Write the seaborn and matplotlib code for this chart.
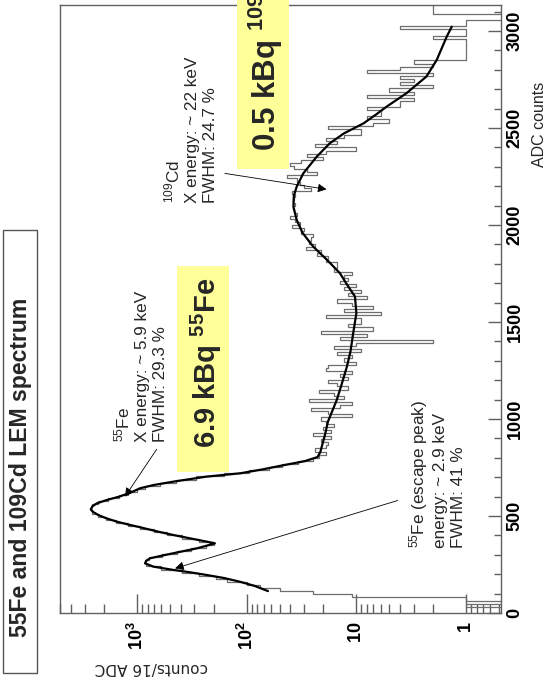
import numpy as np
import pandas as pd
import seaborn as sns
import matplotlib.pyplot as plt
from matplotlib.patches import Rectangle
from matplotlib.ticker import FixedLocator, LogLocator, MultipleLocator, NullFormatter

sns.set_style("white")
plt.rcParams['font.family'] = ['Liberation Sans', 'DejaVu Sans']
plt.rcParams['mathtext.fontset'] = 'custom'
plt.rcParams['mathtext.rm'] = 'Liberation Sans'
plt.rcParams['mathtext.it'] = 'Liberation Sans:italic'
plt.rcParams['mathtext.bf'] = 'Liberation Sans:bold'

# histogram: counts per 16 ADC bin, from 0 to 3136 ADC
bin_width = 16
hist_counts = [
    0, 0, 1, 0, 1, 11, 25, 50, 75, 100,
    150, 190, 270, 390, 600, 820, 850, 780, 590, 430,
    320, 235, 200, 270, 390, 530, 700, 930, 1200, 1550,
    1900, 2250, 2550, 2650, 2550, 2250, 1850, 1450, 1200, 1000,
    850, 620, 440, 290, 160, 95, 62, 48, 34, 25,
    22, 19, 24, 19, 18, 21, 17, 25, 17, 20,
    16, 19, 21, 11, 18, 26, 14, 11, 27, 13,
    16, 22, 12, 15, 18, 12, 14, 11, 19, 18,
    10, 13, 11, 15, 9, 16, 10, 2, 14, 8,
    21, 7, 12, 9, 9, 19, 6, 13, 7, 11,
    15, 8, 12, 9, 13, 10, 14, 12, 13, 11,
    16, 15, 15, 19, 18, 23, 21, 29, 24, 27,
    26, 25, 32, 30, 39, 33, 36, 40, 35, 37,
    38, 36, 38, 37, 36, 39, 26, 30, 33, 35,
    43, 23, 28, 37, 40, 32, 20, 28, 19, 10,
    24, 15, 19, 13, 9, 9, 18, 7, 5, 8,
    6, 6, 8, 4, 4, 3, 8, 3, 5, 2,
    4, 3, 4, 2, 8, 4, 2, 3, 1, 1,
    1, 1, 1, 1, 1, 2, 1, 1, 4, 1,
    1, 0, 0, 2, 2, 2,
]
bin_edges = [i * bin_width for i in range(len(hist_counts) + 1)]
hist_df = pd.DataFrame({
    'adc': [e + bin_width / 2 for e in bin_edges[:-1]],
    'counts': hist_counts,
})

# fit curve
fit_adc = [113, 140, 161, 180, 196, 210, 222, 239, 256, 270, 282, 295, 308, 320,
           333, 346, 359, 368, 385, 402, 420, 442, 456, 471, 488, 505, 520, 534,
           550, 565, 582, 600, 620, 643, 660, 677, 690, 703, 720, 740, 759, 783,
           804, 830, 857, 920, 985, 1098, 1180, 1270, 1350, 1441, 1545, 1631,
           1700, 1751, 1820, 1888, 1960, 2026, 2094, 2150, 2198, 2266, 2352,
           2421, 2472, 2524, 2570, 2610, 2679, 2765, 2851, 2971, 3022]
fit_counts = [64, 85, 115, 160, 232, 330, 467, 710, 846, 820, 761, 600, 467, 370,
              286, 235, 195, 232, 330, 467, 650, 939, 1200, 1531, 1900, 2253, 2500,
              2640, 2550, 2330, 1900, 1450, 1150, 939, 700, 467, 330, 232, 115, 72,
              49, 29.4, 22.6, 21.3, 20.7, 19.3, 18.2, 15.1, 13.6, 12.2, 11.3, 10.7,
              10.0, 10.3, 12.4, 14.1, 18.5, 24.7, 31, 35, 37.5, 37.2, 35, 30.5, 23,
              17.5, 13, 8.6, 6.6, 5.3, 3.5, 2.3, 1.85, 1.5, 1.35]

W, H = 547, 690


def fx(px):
    return px / W


def fy(py):
    return 1 - py / H


fig = plt.figure(figsize=(5.47, 6.90), dpi=100)
ax = fig.add_axes([fx(60), fy(613), fx(501) - fx(60), fy(5) - fy(613)])

sns.histplot(data=hist_df, y='adc', weights='counts', bins=bin_edges, element='step',
             fill=False, color='#6e6e6e', linewidth=0.9, ax=ax)
sns.lineplot(x=fit_counts, y=fit_adc, sort=False, estimator=None, color='black',
             linewidth=1.6, legend=False, ax=ax)

ax.set_xscale('log')
ax.set_xlim(5040, 0.48)
ax.set_ylim(0, 3134)
ax.set_xlabel('')
ax.set_ylabel('')

for s in ax.spines.values():
    s.set_color('#606060')
    s.set_linewidth(1.0)

ax.xaxis.set_major_locator(FixedLocator([1, 10, 100, 1000]))
ax.set_xticklabels([r'$\mathbf{1}$', r'$\mathbf{10}$', r'$\mathbf{10^{2}}$', r'$\mathbf{10^{3}}$'])
ax.xaxis.set_minor_locator(LogLocator(base=10, subs=np.arange(2, 10), numticks=20))
ax.xaxis.set_minor_formatter(NullFormatter())
ax.tick_params(axis='x', which='both', direction='in', bottom=True, top=False,
               colors='#606060', labelcolor='black', labelrotation=90, labelsize=13, pad=6)
ax.tick_params(axis='x', which='major', length=13.5, width=1)
ax.tick_params(axis='x', which='minor', length=6.5, width=1)

ax.yaxis.tick_right()
ax.yaxis.set_major_locator(MultipleLocator(500))
ax.yaxis.set_minor_locator(MultipleLocator(100))
ax.tick_params(axis='y', which='both', direction='in', left=False, right=True,
               labelleft=False, labelright=True, colors='#606060', labelcolor='black',
               labelrotation=90, labelsize=13, pad=4)
ax.tick_params(axis='y', which='major', length=9.5, width=1)
ax.tick_params(axis='y', which='minor', length=5, width=1)
for lab in ax.get_yticklabels():
    lab.set_fontweight('bold')
    lab.set_verticalalignment('center')

# arrows
arrow = dict(arrowstyle='-|>', color='black', lw=0.6, mutation_scale=13, shrinkA=0, shrinkB=0)
ax.annotate('', xy=(1287, 600), xytext=(662, 844), arrowprops=arrow)
ax.annotate('', xy=(450, 230), xytext=(4.2, 580), arrowprops=arrow)
ax.annotate('', xy=(18.7, 2184), xytext=(158, 2266), arrowprops=arrow)

# annotation texts
fig.text(fx(112), fy(441.5), '$^{55}$Fe\nX energy: ~ 5.9 keV\nFWHM: 29.3 %',
         rotation=90, ha='left', va='bottom', fontsize=12.3, linespacing=1.25)
fig.text(fx(162), fy(203), '$^{109}$Cd\nX energy: ~ 22 keV\nFWHM: 24.7 %',
         rotation=90, ha='left', va='bottom', fontsize=12.3, linespacing=1.25)
fig.text(fx(407), fy(548), '$^{55}$Fe (escape peak)\nenergy: ~ 2.9 keV\nFWHM: 41 %',
         rotation=90, ha='left', va='bottom', fontsize=12.3, linespacing=1.25)

# yellow activity boxes
fig.patches.append(Rectangle((fx(177), fy(472)), fx(229) - fx(177), fy(266) - fy(472),
                             transform=fig.transFigure, facecolor='#ffff99',
                             edgecolor='none', zorder=3))
fig.text(fx(206), fy(363), r'6.9 kBq $^{\mathbf{55}}$Fe', rotation=90, ha='center',
         va='center', fontsize=21, fontweight='bold', zorder=4)
fig.patches.append(Rectangle((fx(237), fy(169)), fx(289) - fx(237), fy(-10) - fy(169),
                             transform=fig.transFigure, facecolor='#ffff99',
                             edgecolor='none', zorder=3))
fig.text(fx(266), fy(151), r'0.5 kBq $^{\mathbf{109}}$Cd', rotation=90, ha='center',
         va='bottom', fontsize=22.5, fontweight='bold', zorder=4)

# title box
fig.patches.append(Rectangle((fx(3), fy(673)), fx(37) - fx(3), fy(230) - fy(673),
                             transform=fig.transFigure, fill=False,
                             edgecolor='#555555', linewidth=1.0))
fig.text(fx(21), fy(467), '55Fe and 109Cd LEM spectrum', rotation=90, ha='center',
         va='center', fontsize=16.6, fontweight='bold')

# axis titles
fig.text(fx(151.5), fy(668), 'counts/16 ADC', rotation=180, ha='center', va='center',
         fontsize=11, family='DejaVu Sans')
fig.text(fx(539), fy(124.5), 'ADC counts', rotation=90, ha='center', va='center',
         fontsize=11.5)

fig.savefig('out.png', dpi=100)
